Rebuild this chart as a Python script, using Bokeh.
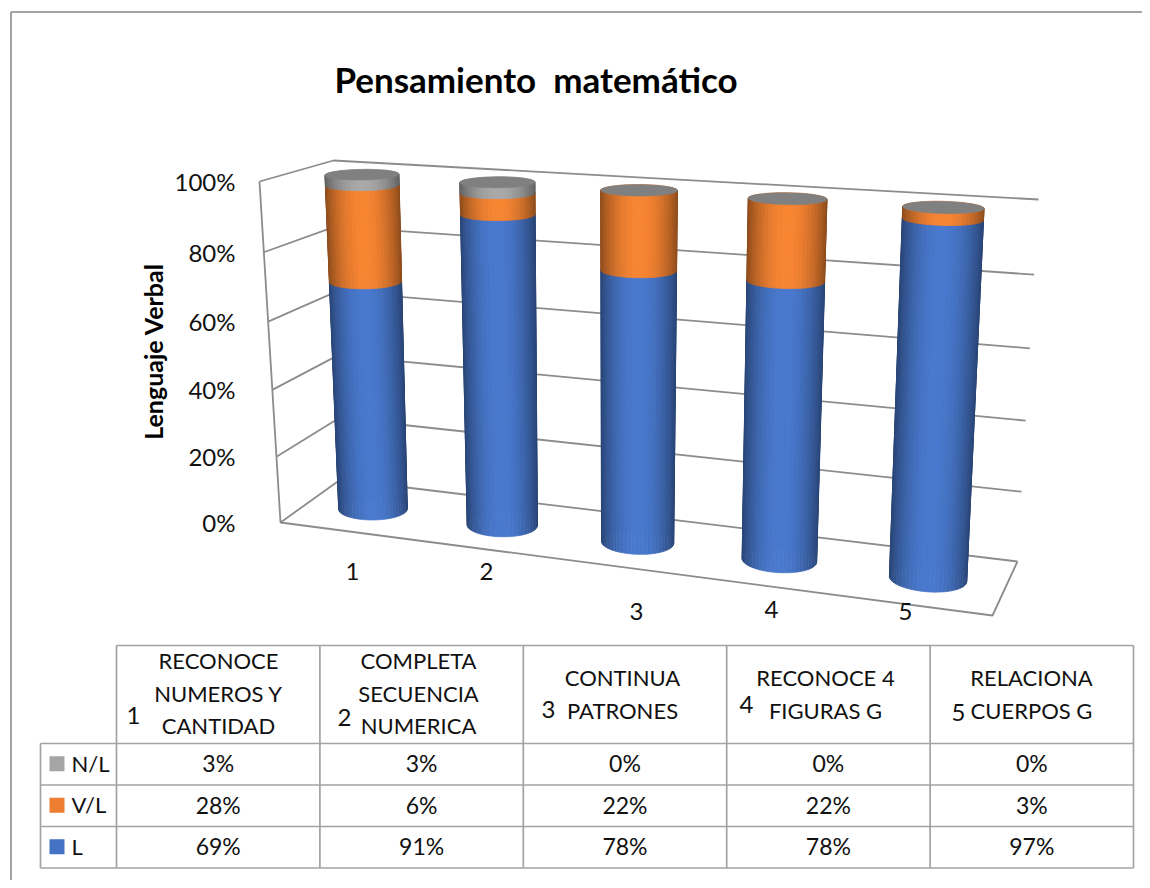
import math
from bokeh.plotting import figure
from bokeh.core.properties import value
from bokeh.embed import file_html
from bokeh.resources import INLINE

# ---- data ----
title = "Pensamiento \u00a0matemático"
y_title = "Lenguaje Verbal"
categories = ["1", "2", "3", "4", "5"]
header_lines = [["RECONOCE", "NUMEROS Y", "CANTIDAD"],
                ["COMPLETA", "SECUENCIA", "NUMERICA"],
                ["CONTINUA", "PATRONES"],
                ["RECONOCE 4", "FIGURAS G"],
                ["RELACIONA", "CUERPOS G"]]
series_names = ["N/L", "V/L", "L"]
nl = [3, 3, 0, 0, 0]
vl = [28, 6, 22, 22, 3]
l = [69, 91, 78, 78, 97]
y_ticks = [0, 20, 40, 60, 80, 100]

# ---- scene: box corners of the 3D view, in page pixels ----
FL0, FR0, BL0, BR0 = (280, 522), (992, 615), (340, 479), (1017, 561)
FL1, FR1, BL1, BR1 = (259, 181), (1009, 224), (333, 160), (1038, 199)
W_U, W_V = 0.89, 0.955
RU, RD = 0.050, 0.235
GREY = "#8c8c8c"
LINE = "#a3a3a3"
FONT = value("Lato")

def persp(t, w):
    return t * w / (1 + (w - 1) * t)

def mix(a, b, t):
    return (a[0] + (b[0] - a[0]) * t, a[1] + (b[1] - a[1]) * t)

def project(u, d, pct):
    h, z = persp(u, W_U), persp(pct / 100, W_V)
    floor = mix(mix(FL0, FR0, h), mix(BL0, BR0, h), d)
    roof = mix(mix(FL1, FR1, h), mix(BL1, BR1, h), d)
    return mix(floor, roof, z)

p = figure(width=1142, height=880, x_range=(0, 1142), y_range=(880, 0),
           output_backend="svg", toolbar_location=None, min_border=0)
p.axis.visible = False
p.grid.visible = False
p.outline_line_color = None
p.background_fill_color = "white"

# chart frame
p.segment([10.5, 10.5], [11.5, 11.5], [1142, 10.5], [11.5, 880], line_color=LINE, line_width=2)

# walls
for t in y_ticks:
    a, b, c = project(0, 0, t), project(0, 1, t), project(1, 1, t)
    p.line([a[0], b[0], c[0]], [a[1], b[1], c[1]], line_color=GREY, line_width=1.8)
e1, e2, e3 = project(0, 0, 0), project(0, 0, 100), project(1, 0, 0)
e4 = project(1, 1, 0)
p.line([e2[0], e1[0], e3[0], e4[0]], [e2[1], e1[1], e3[1], e4[1]], line_color=GREY, line_width=1.8)

# cylinders
def scale(rgb, f):
    return "#%02x%02x%02x" % tuple(min(255, int(c * f)) for c in rgb)

def shade(s):
    return 0.56 + 0.44 * math.sin(math.pi * min(1, max(0, s))) ** 0.8

BASE = {"L": (74, 122, 207), "V/L": (249, 134, 51), "N/L": (170, 170, 170)}
N = 56
qx, qy, qc = [], [], []
capx, capy = [], []
for i in range(len(categories)):
    uc = (i + 0.5) / len(categories)
    ring = [(uc + RU * math.cos(2 * math.pi * k / N), 0.5 + RD * math.sin(2 * math.pi * k / N)) for k in range(N)]
    lo = 0
    for name, val in (("L", l[i]), ("V/L", vl[i]), ("N/L", nl[i])):
        if val == 0:
            continue
        hi = lo + val
        pts_lo = [project(u, d, lo) for u, d in ring]
        pts_hi = [project(u, d, hi) for u, d in ring]
        xmin, xmax = min(q[0] for q in pts_lo), max(q[0] for q in pts_lo)
        order = sorted(range(N), key=lambda k: -(ring[k][1] + ring[(k + 1) % N][1]))
        for k in order:
            m = (k + 1) % N
            s = ((pts_lo[k][0] + pts_lo[m][0]) / 2 - xmin) / (xmax - xmin)
            qx.append([pts_lo[k][0], pts_lo[m][0], pts_hi[m][0], pts_hi[k][0]])
            qy.append([pts_lo[k][1], pts_lo[m][1], pts_hi[m][1], pts_hi[k][1]])
            qc.append(scale(BASE[name], shade(s)))
        lo = hi
    top = [project(u, d, lo) for u, d in ring]
    capx.append([q[0] for q in top])
    capy.append([q[1] for q in top])
p.patches(qx, qy, fill_color=qc, line_color=qc, line_width=0.7)
p.patches(capx, capy, fill_color="#808080", line_color="#808080", line_width=0.5)

# value axis labels
p.text([235] * len(y_ticks), [project(0, 0, t)[1] for t in y_ticks], text=[f"{t}%" for t in y_ticks],
       text_align="right", text_baseline="middle", text_font=FONT, text_font_size=value("24px"), text_color="#111111")

# title and axis title
p.text([535.5], [78], text=[title], text_align="center", text_baseline="middle", text_font=FONT,
       text_font_size=value("35px"), text_font_style="bold", text_color="black")
p.text([152], [351], text=[y_title], angle=math.pi / 2, text_align="center", text_baseline="middle", text_font=FONT,
       text_font_size=value("25px"), text_font_style="bold", text_color="black")

# category labels under the floor
p.text([352, 486, 636, 771, 905], [571, 571, 611, 609, 611], text=categories, text_align="center",
       text_baseline="middle", text_font=FONT, text_font_size=value("24px"), text_color="#111111")

# data table
col_x = [116 + 203.4 * k for k in range(6)]
row_y = [645, 743, 784.5, 826, 867.5]
left_x = 40
p.segment(col_x, [row_y[0]] * 6, col_x, [row_y[-1]] * 6, line_color=LINE, line_width=1.7)
p.segment([col_x[0]], [row_y[0]], [col_x[-1]], [row_y[0]], line_color=LINE, line_width=1.7)
p.segment([left_x] * 4, row_y[1:], [col_x[-1]] * 4, row_y[1:], line_color=LINE, line_width=1.7)
p.segment([left_x], [row_y[1]], [left_x], [row_y[-1]], line_color=LINE, line_width=1.7)

centres = [(col_x[k] + col_x[k + 1]) / 2 for k in range(5)]
hx, hy, ht = [], [], []
line_cx = [218, 418, 622, 825, 1031]
line_y = {3: [660, 693, 725], 2: [677, 710]}
for k, lines in enumerate(header_lines):
    for t, yy in zip(lines, line_y[len(lines)]):
        hx.append(line_cx[k]); hy.append(yy); ht.append(t)
TS = value("22px")
p.text(hx, hy, text=ht, text_align="center", text_baseline="middle", text_font=FONT, text_font_size=TS, text_color="#111111")
p.text([133, 344, 548, 746, 958], [715, 717, 709, 704, 712], text=categories, text_align="center", text_baseline="middle",
       text_font=FONT, text_font_size=value("24px"), text_color="#111111")

cx, cy, ct = [], [], []
for r, vals in enumerate((nl, vl, l)):
    yy = (row_y[r + 1] + row_y[r + 2]) / 2 - 1
    for k, v in enumerate(vals):
        cx.append(centres[k]); cy.append(yy); ct.append(f"{v}%")
p.text(cx, cy, text=ct, text_align="center", text_baseline="middle", text_font=FONT, text_font_size=value("23px"), text_color="#111111")

swatches = ["#a5a5a5", "#ed7d31", "#4472c4"]
for r, name in enumerate(series_names):
    yy = (row_y[r + 1] + row_y[r + 2]) / 2
    p.quad(left=[49], right=[64], top=[yy - 8], bottom=[yy + 7], fill_color=swatches[r], line_color=None)
    p.text([71], [yy - 1], text=[name], text_align="left", text_baseline="middle", text_font=FONT, text_font_size=TS, text_color="#111111")

open("out.html", "w").write(file_html(p, INLINE))
